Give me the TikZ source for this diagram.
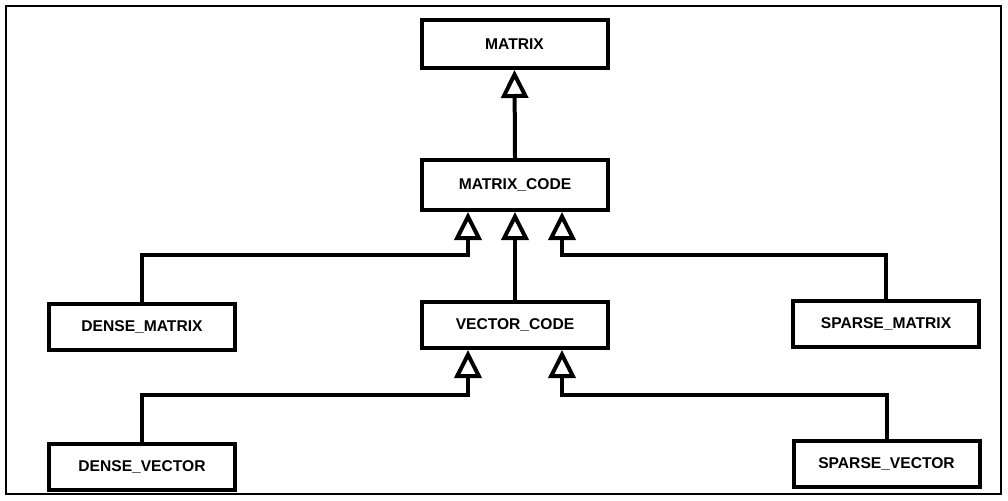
\documentclass[tikz,border=0pt]{standalone}
\usepackage{fontspec}
\setmainfont{Liberation Sans}
\usetikzlibrary{arrows.meta}
\tikzset{
  cls/.style={draw, line width=4pt, rectangle, minimum width=186pt, minimum height=46pt,
    inner sep=0pt, font=\fontsize{15.6}{18}\selectfont\bfseries},
  inh/.style={line width=4pt, line join=miter,
    -{Triangle[open, length=28pt, width=27pt]}},
}
\begin{document}
\begin{tikzpicture}[x=1pt, y=-1pt]
  \useasboundingbox (0,0) rectangle (1008,500);
  % outer frame
  \draw[line width=2pt] (6,6) rectangle (1001,494);

  % classes
  \node[cls, minimum height=48pt] (m)  at (514.5,44)  {MATRIX};
  \node[cls, minimum height=50pt] (mc) at (515,185)   {MATRIX\_CODE};
  \node[cls] (vc) at (515,325)   {VECTOR\_CODE};
  \node[cls] (dm) at (142,327)   {DENSE\_MATRIX};
  \node[cls] (sm) at (886,324)   {SPARSE\_MATRIX};
  \node[cls] (dv) at (142,467)   {DENSE\_VECTOR};
  \node[cls] (sv) at (886.5,464) {SPARSE\_VECTOR};

  % bend points of the inheritance links
  \coordinate (j1) at (468,255);
  \coordinate (j2) at (562,255);
  \coordinate (j3) at (468,395);
  \coordinate (j4) at (562,395);

  % inheritance links
  \draw[inh] (mc.north) -- (m.south);
  \draw[inh] (vc.north) -- (mc.south);
  \draw[inh] (dm.north) |- (j1) -- (j1 |- mc.south);
  \draw[inh] (sm.north) |- (j2) -- (j2 |- mc.south);
  \draw[inh] (dv.north) |- (j3) -- (j3 |- vc.south);
  \draw[inh] (sv.north) |- (j4) -- (j4 |- vc.south);
\end{tikzpicture}
\end{document}
